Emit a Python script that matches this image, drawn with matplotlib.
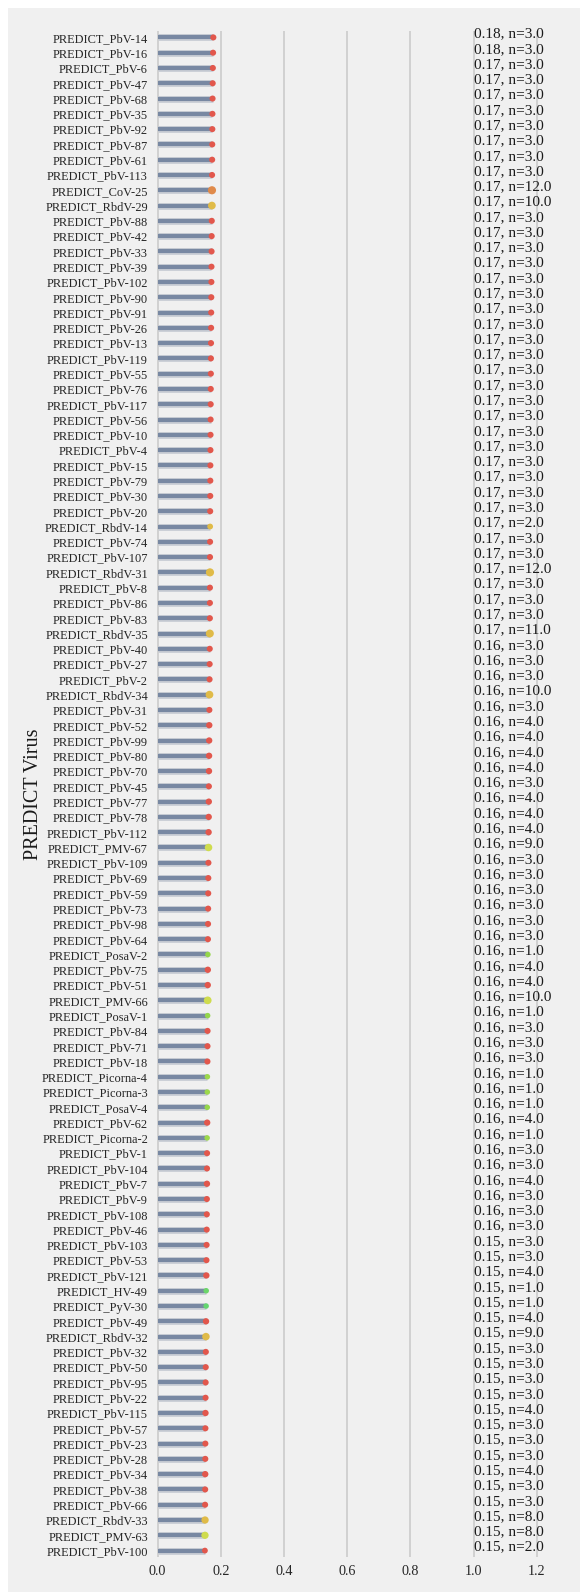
import numpy as np
import matplotlib
matplotlib.use("Agg")
import matplotlib.pyplot as plt
from matplotlib.patches import Rectangle

plt.rcParams['font.family'] = ['Liberation Serif', 'DejaVu Serif']

viruses = [
    "PREDICT_PbV-14", "PREDICT_PbV-16", "PREDICT_PbV-6", "PREDICT_PbV-47", "PREDICT_PbV-68",
    "PREDICT_PbV-35", "PREDICT_PbV-92", "PREDICT_PbV-87", "PREDICT_PbV-61", "PREDICT_PbV-113",
    "PREDICT_CoV-25", "PREDICT_RbdV-29", "PREDICT_PbV-88", "PREDICT_PbV-42", "PREDICT_PbV-33",
    "PREDICT_PbV-39", "PREDICT_PbV-102", "PREDICT_PbV-90", "PREDICT_PbV-91", "PREDICT_PbV-26",
    "PREDICT_PbV-13", "PREDICT_PbV-119", "PREDICT_PbV-55", "PREDICT_PbV-76", "PREDICT_PbV-117",
    "PREDICT_PbV-56", "PREDICT_PbV-10", "PREDICT_PbV-4", "PREDICT_PbV-15", "PREDICT_PbV-79",
    "PREDICT_PbV-30", "PREDICT_PbV-20", "PREDICT_RbdV-14", "PREDICT_PbV-74", "PREDICT_PbV-107",
    "PREDICT_RbdV-31", "PREDICT_PbV-8", "PREDICT_PbV-86", "PREDICT_PbV-83", "PREDICT_RbdV-35",
    "PREDICT_PbV-40", "PREDICT_PbV-27", "PREDICT_PbV-2", "PREDICT_RbdV-34", "PREDICT_PbV-31",
    "PREDICT_PbV-52", "PREDICT_PbV-99", "PREDICT_PbV-80", "PREDICT_PbV-70", "PREDICT_PbV-45",
    "PREDICT_PbV-77", "PREDICT_PbV-78", "PREDICT_PbV-112", "PREDICT_PMV-67", "PREDICT_PbV-109",
    "PREDICT_PbV-69", "PREDICT_PbV-59", "PREDICT_PbV-73", "PREDICT_PbV-98", "PREDICT_PbV-64",
    "PREDICT_PosaV-2", "PREDICT_PbV-75", "PREDICT_PbV-51", "PREDICT_PMV-66", "PREDICT_PosaV-1",
    "PREDICT_PbV-84", "PREDICT_PbV-71", "PREDICT_PbV-18", "PREDICT_Picorna-4", "PREDICT_Picorna-3",
    "PREDICT_PosaV-4", "PREDICT_PbV-62", "PREDICT_Picorna-2", "PREDICT_PbV-1", "PREDICT_PbV-104",
    "PREDICT_PbV-7", "PREDICT_PbV-9", "PREDICT_PbV-108", "PREDICT_PbV-46", "PREDICT_PbV-103",
    "PREDICT_PbV-53", "PREDICT_PbV-121", "PREDICT_HV-49", "PREDICT_PyV-30", "PREDICT_PbV-49",
    "PREDICT_RbdV-32", "PREDICT_PbV-32", "PREDICT_PbV-50", "PREDICT_PbV-95", "PREDICT_PbV-22",
    "PREDICT_PbV-115", "PREDICT_PbV-57", "PREDICT_PbV-23", "PREDICT_PbV-28", "PREDICT_PbV-34",
    "PREDICT_PbV-38", "PREDICT_PbV-66", "PREDICT_RbdV-33", "PREDICT_PMV-63", "PREDICT_PbV-100",
]

scores = [
    0.1762, 0.1753,
    0.1746, 0.1741, 0.1737, 0.1733, 0.1730, 0.1727, 0.1724, 0.1721,
    0.1718, 0.1715, 0.1712, 0.1709, 0.1706, 0.1703, 0.1700, 0.1697, 0.1694, 0.1691,
    0.1688, 0.1685, 0.1683, 0.1680, 0.1678, 0.1675, 0.1673, 0.1670, 0.1668, 0.1666,
    0.1664, 0.1662, 0.1660, 0.1658, 0.1656, 0.1655, 0.1654, 0.1653, 0.1652, 0.1651,
    0.1648, 0.1645, 0.1642, 0.1639, 0.1636, 0.1633, 0.1630, 0.1627, 0.1624, 0.1621,
    0.1618, 0.1615, 0.1612, 0.1609, 0.1606, 0.1603, 0.1600, 0.1597, 0.1594, 0.1591,
    0.1589, 0.1587, 0.1585, 0.1583, 0.1581, 0.1579, 0.1577, 0.1575, 0.1573, 0.1571,
    0.1569, 0.1567, 0.1565, 0.1563, 0.1561, 0.1559, 0.1557, 0.1555, 0.1552,
    0.1548, 0.1544, 0.1540, 0.1536, 0.1533, 0.1530, 0.1527, 0.1524, 0.1521, 0.1518, 0.1515,
    0.1513, 0.1511, 0.1509, 0.1507, 0.1505, 0.1503, 0.1501, 0.1499, 0.1497, 0.1495,
]

n_hosts = [
    3, 3, 3, 3, 3, 3, 3, 3, 3, 3,
    12, 10, 3, 3, 3, 3, 3, 3, 3, 3,
    3, 3, 3, 3, 3, 3, 3, 3, 3, 3,
    3, 3, 2, 3, 3, 12, 3, 3, 3, 11,
    3, 3, 3, 10, 3, 4, 4, 4, 4, 3,
    4, 4, 4, 9, 3, 3, 3, 3, 3, 3,
    1, 4, 4, 10, 1, 3, 3, 3, 1, 1,
    1, 4, 1, 3, 3, 4, 3, 3, 3, 3,
    3, 4, 1, 1, 4, 9, 3, 3, 3, 3,
    4, 3, 3, 3, 4, 3, 3, 8, 8, 2,
]

family_colors = {
    "PbV": "#e2574c",
    "CoV": "#e08a4a",
    "RbdV": "#e0bb48",
    "PMV": "#cfdc4e",
    "PosaV": "#95d64c",
    "Picorna": "#9cd84c",
    "HV": "#6cd66a",
    "PyV": "#64d670",
}

bg = "#f0f0f0"
W, H = 580, 1592

fig = plt.figure(figsize=(W / 100, H / 100), dpi=100, facecolor="white")
fig.patches.append(Rectangle((8 / W, 0), 1 - 8 / W, 1 - 8 / H, transform=fig.transFigure,
                             facecolor=bg, edgecolor="none", zorder=-10))

# 316 px per unit on x, zero at ~157.7 px
ax = fig.add_axes([148.2 / W, 35 / H, 404.5 / W, 1526 / H])
ax.set_facecolor(bg)

y = np.arange(len(viruses))
colors = [family_colors[v.split("_")[1].rsplit("-", 1)[0]] for v in viruses]
sizes = [14 + 1.7 * n for n in n_hosts]

# stems with a soft edge, then the dots on the ends
ax.hlines(y, 0, scores, color="#c9cdd5", lw=4.9, zorder=2)
ax.hlines(y, 0, scores, color="#7888a2", lw=3.0, zorder=3)
ax.scatter(scores, y, s=sizes, c=colors, zorder=4, linewidths=0)

for i, (v, n) in enumerate(zip(scores, n_hosts)):
    ax.text(1.0, i, f"{v:.2f}, n={float(n)}", fontsize=11, color="#1a1a1a", zorder=5)

ax.set_yticks(y)
ax.set_yticklabels(viruses)
ax.set_ylim(len(viruses) - 1 + 0.42, -0.42)
ax.set_xlim(-0.03, 1.25)
ax.set_xticks([0.0, 0.2, 0.4, 0.6, 0.8, 1.0, 1.2])
ax.set_xticklabels(["0.0", "0.2", "0.4", "0.6", "0.8", "1.0", "1.2"])

ax.tick_params(axis="y", length=0, pad=0.2, labelsize=8.9, labelcolor="#262626")
ax.tick_params(axis="x", length=0, pad=6, labelsize=10.2, labelcolor="#262626")
ax.grid(axis="x", color="#cbcbcb", lw=1.2)
ax.grid(axis="y", visible=False)
ax.set_axisbelow(True)
for s in ax.spines.values():
    s.set_visible(False)

ax.set_ylabel("PREDICT Virus", fontsize=14.5, color="#1a1a1a")
ax.yaxis.set_label_coords(-0.26, 0.5)

fig.savefig("out.png", dpi=100, facecolor="white")
